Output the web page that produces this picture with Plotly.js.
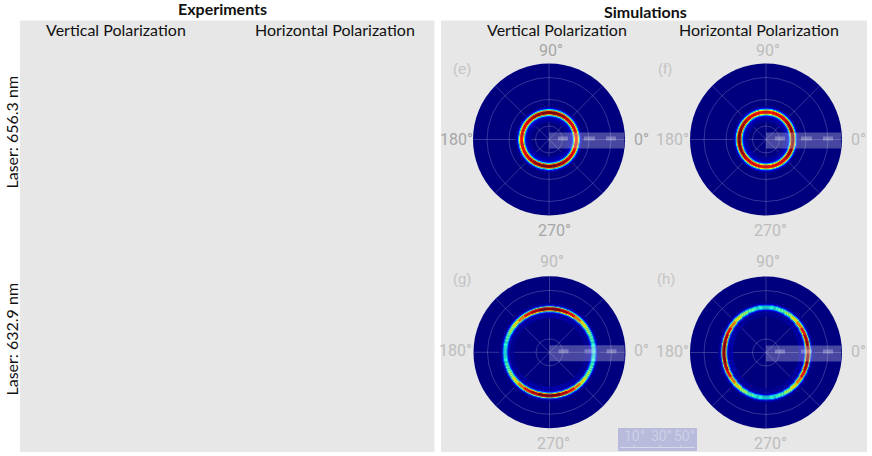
<!DOCTYPE html>
<html><head><meta charset="utf-8">
<script src="https://cdn.plot.ly/plotly-3.0.1.min.js"></script>
<style>html,body{margin:0;padding:0;background:#fff}#c{width:872px;height:456px}
.polarlayer .frontplot{filter:blur(.45px)}</style>
</head><body><div id="c"></div>
<script>
const sectorAngles=[0,10,20,30,40,50,60,70,80,90,100,110,120,130,140,150,160,170,180,190,200,210,220,230,240,250,260,270,280,290,300,310,320,330,340,350];
const ampE=[.86,.86,.87,.88,.9,.93,.96,.98,1,1,1,.98,.96,.93,.9,.88,.87,.86,.86,.86,.87,.88,.9,.93,.96,.98,1,1,1,.98,.96,.93,.9,.88,.87,.86];
const ampF=[1,1,.98,.96,.93,.9,.88,.87,.86,.86,.86,.87,.88,.9,.93,.96,.98,1,1,1,.98,.96,.93,.9,.88,.87,.86,.86,.86,.87,.88,.9,.93,.96,.98,1];
const ampG=[.42,.43,.47,.55,.65,.76,.87,.95,1,1,1,.95,.87,.76,.65,.55,.47,.43,.42,.43,.47,.55,.65,.76,.87,.95,1,1,1,.95,.87,.76,.65,.55,.47,.43];
const ampH=[1,1,.95,.87,.76,.65,.55,.47,.43,.42,.43,.47,.55,.65,.76,.87,.95,1,1,1,.95,.87,.76,.65,.55,.47,.43,.42,.43,.47,.55,.65,.76,.87,.95,1];
const radE=[27.5,27.5,27.5,27.5,27.4,27.3,27.2,27.1,27,27,27,27.1,27.2,27.3,27.4,27.5,27.5,27.5,27.5,27.5,27.5,27.5,27.4,27.3,27.2,27.1,27,27,27,27.1,27.2,27.3,27.4,27.5,27.5,27.5];
const radF=[27,27,27.1,27.2,27.3,27.4,27.5,27.5,27.5,27.5,27.5,27.5,27.5,27.4,27.3,27.2,27.1,27,27,27,27.1,27.2,27.3,27.4,27.5,27.5,27.5,27.5,27.5,27.5,27.5,27.4,27.3,27.2,27.1,27];
const radG=[44.7,44.7,44.6,44.5,44.4,44.2,44,43.8,43.7,43.7,43.7,43.8,44,44.2,44.4,44.5,44.6,44.7,44.7,44.7,44.6,44.5,44.4,44.2,44,43.8,43.7,43.7,43.7,43.8,44,44.2,44.4,44.5,44.6,44.7];
const radH=[42.3,42.4,42.7,43.1,43.6,44.2,44.7,45.1,45.4,45.5,45.4,45.1,44.7,44.2,43.6,43.1,42.7,42.4,42.3,42.4,42.7,43.1,43.6,44.2,44.7,45.1,45.4,45.5,45.4,45.1,44.7,44.2,43.6,43.1,42.7,42.4];
const ringOffsets=[-9,-8,-7,-6,-5,-4,-3,-2,-1,0,1,2,3,4,5];
const profileWide=[.03,.03,.04,.05,.08,.16,.38,.72,.98,1,.98,.72,.38,.14,.04];
const profileNarrow=[.03,.05,.05,.03,.05,.12,.32,.7,.98,1,.9,.5,.18,.05,.02];
const tickAngles=[0,45,90,135,180,225,270,315];
const gridRadii=[13.5,40,62];
const panelNames=["(e)","(f)","(g)","(h)"];
const angleLabels=["90°","180°","0°","270°"];
const scaleLabels=["10°","30°","50°"];
const W=872,H=456,R=76;
const px=x=>x/W, py=y=>1-y/H;
const centers=[[549,139.5],[766,139.5],[549.5,352.3],[766,352.5]];
const labelPos=[[[551,50],[456,139],[641,139],[554,231]],[[768,50],[672,139],[858,139],[770,231]],[[551.5,261],[455,350],[641,350],[553,443]],[[768,261],[672,351],[858,351],[770,443]]];
const namePos=[[462,68],[665,68],[462,278],[666,278]];
const amps=[ampE,ampF,ampG,ampH], rads=[radE,radF,radG,radH], profs=[profileWide,profileWide,profileNarrow,profileNarrow];
const jet=[[0,"#00007f"],[.125,"#0000ff"],[.375,"#00ffff"],[.625,"#ffff00"],[.875,"#ff0000"],[1,"#7f0000"]];
const data=[],layout={width:W,height:H,margin:{l:0,r:0,t:0,b:0},paper_bgcolor:"#fff",showlegend:false,shapes:[],annotations:[]};
const A=(text,x,y,font,extra={})=>layout.annotations.push(Object.assign({text,xref:"paper",yref:"paper",x:px(x),y:py(y),xanchor:"center",yanchor:"middle",showarrow:false,font},extra));
centers.forEach((c,i)=>{
  const th=[],base=[],r=[],z=[];
  sectorAngles.forEach((a,k)=>{ringOffsets.forEach((o,j)=>{
    th.push(a);base.push(rads[i][k]+o-.55);r.push(1.1);z.push(amps[i][k]*profs[i][j]);
  });});
  const sp=i?"polar"+(i+1):"polar";
  data.push({type:"barpolar",subplot:sp,theta:th,base:base,r:r,width:10.5,hoverinfo:"skip",
    marker:{color:z,cmin:0,cmax:1,colorscale:jet,showscale:false,line:{width:0}}});
  layout[sp]={domain:{x:[px(c[0]-R),px(c[0]+R)],y:[py(c[1]+R),py(c[1]-R)]},bgcolor:"#00007f",barmode:"overlay",
    radialaxis:{range:[0,R],tickmode:"array",tickvals:gridRadii,showticklabels:false,ticks:"",showline:false,gridcolor:"rgba(255,255,255,.2)",gridwidth:1},
    angularaxis:{tickmode:"array",tickvals:tickAngles,showticklabels:false,ticks:"",showline:false,gridcolor:"rgba(255,255,255,.2)",gridwidth:1}};
  const L=c[0],Y=c[1];
  layout.shapes.push({type:"rect",xref:"paper",yref:"paper",x0:px(L),x1:px(L+75),y0:py(Y+9),y1:py(Y-7),line:{width:0},fillcolor:"rgba(255,255,255,.28)",layer:"above"});
  [[9,19],[35,46],[57,67]].forEach(d=>layout.shapes.push({type:"rect",xref:"paper",yref:"paper",x0:px(L+d[0]),x1:px(L+d[1]),y0:py(Y+1),y1:py(Y-3),line:{width:0},fillcolor:"rgba(255,255,255,.28)",layer:"above"}));
  angleLabels.forEach((t,k)=>A(t,labelPos[i][k][0],labelPos[i][k][1],{family:"Roboto",size:16,color:i==0?"#a6a6a6":"#bdbdbd"}));
  A(panelNames[i],namePos[i][0],namePos[i][1],{family:"Liberation Sans",size:15,color:"#c4c4c4"});
});
layout.shapes.unshift(
 {type:"rect",xref:"paper",yref:"paper",x0:px(20),x1:px(434.5),y0:py(452),y1:py(20.5),fillcolor:"#e7e7e7",line:{width:0},layer:"below"},
 {type:"rect",xref:"paper",yref:"paper",x0:px(441),x1:px(867),y0:py(452),y1:py(20.5),fillcolor:"#e7e7e7",line:{width:0},layer:"below"});
layout.shapes.push({type:"rect",xref:"paper",yref:"paper",x0:px(618),x1:px(697),y0:py(451),y1:py(428),fillcolor:"#b8bbdc",line:{width:0},layer:"above"});
layout.shapes.push({type:"line",xref:"paper",yref:"paper",x0:px(620),x1:px(695),y0:py(447.5),y1:py(447.5),line:{color:"#d8d9ec",width:1},layer:"above"});
[634,660,681].forEach(x=>layout.shapes.push({type:"line",xref:"paper",yref:"paper",x0:px(x),x1:px(x),y0:py(447.5),y1:py(445),line:{color:"#d8d9ec",width:1},layer:"above"}));
[634,661,684].forEach((x,i)=>A(scaleLabels[i],x,436,{family:"Roboto",size:14,color:"#cfd0e6"}));
const T=(text,x,y,size,extra={})=>A(text,x,y,{family:"Lato",size,color:"#111"},extra);
T("<b>Experiments</b>",222.5,8,16);
T("<b>Simulations</b>",645.5,12,16);
T("Vertical Polarization",116.5,30,16);
T("Horizontal Polarization",335,30,16);
T("Vertical Polarization",557,30,16);
T("Horizontal Polarization",758.5,30,16);
T("Laser: 656.3 nm",10.5,132,16,{textangle:-90});
T("Laser: 632.9 nm",10.5,339,16,{textangle:-90});
Plotly.newPlot("c",data,layout,{staticPlot:true,displayModeBar:false});
</script></body></html>
